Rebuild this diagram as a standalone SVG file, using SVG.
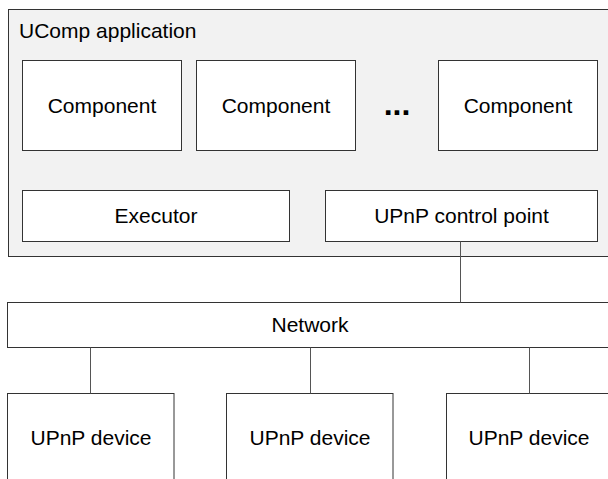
<svg xmlns="http://www.w3.org/2000/svg" width="608" height="479" viewBox="0 0 608 479">
<style>
.box{fill:#ffffff;stroke:#333333;stroke-width:1}
.cont{fill:#f2f2f2;stroke:#333333;stroke-width:1}
.lbl{font-family:"Liberation Sans",Arial,sans-serif;font-size:21px;fill:#000000;text-anchor:middle}
.title{font-family:"Liberation Sans",Arial,sans-serif;font-size:21px;fill:#000000}
.dots{font-family:"Liberation Sans",Arial,sans-serif;font-size:32px;font-weight:bold;fill:#000000;text-anchor:middle}
.conn{stroke:#555555;stroke-width:1;fill:none}
</style>
<rect width="608" height="479" fill="#ffffff"/>
<g id="ucomp-app">
<rect class="cont" x="8.5" y="9.5" width="604" height="247"/>
<text class="title" x="19" y="37.5">UComp application</text>
</g>
<g id="component1">
<rect class="box" x="22.5" y="60.5" width="159" height="90"/>
<text class="lbl" x="102" y="113">Component</text>
</g>
<g id="component2">
<rect class="box" x="196.5" y="60.5" width="159" height="90"/>
<text class="lbl" x="276" y="113">Component</text>
</g>
<g id="ellipsis">
<text class="dots" x="397" y="115">...</text>
</g>
<g id="component3">
<rect class="box" x="438.5" y="60.5" width="159" height="90"/>
<text class="lbl" x="518" y="113">Component</text>
</g>
<g id="executor">
<rect class="box" x="22.5" y="190.5" width="267" height="51"/>
<text class="lbl" x="156" y="222.5">Executor</text>
</g>
<g id="control-point">
<rect class="box" x="325.5" y="190.5" width="272" height="51"/>
<text class="lbl" x="461.5" y="222.5">UPnP control point</text>
</g>
<g id="network">
<rect class="box" x="7.5" y="302.5" width="606" height="45"/>
<text class="lbl" x="310" y="331.5">Network</text>
</g>
<g id="device1">
<rect class="box" x="7.5" y="393.5" width="166.5" height="100"/>
<text class="lbl" x="91" y="445">UPnP device</text>
</g>
<g id="device2">
<rect class="box" x="226.5" y="393.5" width="166.5" height="100"/>
<text class="lbl" x="310" y="445">UPnP device</text>
</g>
<g id="device3">
<rect class="box" x="446.5" y="393.5" width="166.5" height="100"/>
<text class="lbl" x="529" y="445">UPnP device</text>
</g>
<g id="connectors">
<line class="conn" x1="460.5" y1="241.5" x2="460.5" y2="302.5"/>
<line class="conn" x1="90.5" y1="347.5" x2="90.5" y2="393.5"/>
<line class="conn" x1="310.5" y1="347.5" x2="310.5" y2="393.5"/>
<line class="conn" x1="529.5" y1="347.5" x2="529.5" y2="393.5"/>
</g>
</svg>
